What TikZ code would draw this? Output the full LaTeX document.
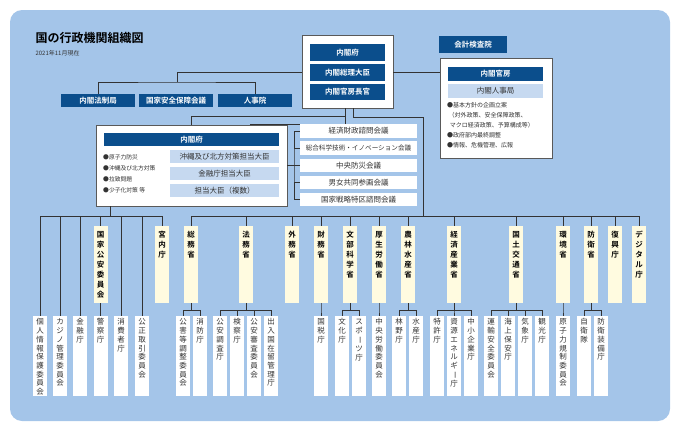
\documentclass[tikz,border=0pt]{standalone}
\usepackage{fontspec}
\usepackage{graphicx}
\setmainfont{Noto Sans CJK JP}[BoldFont=Noto Sans CJK JP Bold]
\definecolor{bgblue}{HTML}{A4C5E9}
\definecolor{darkblue}{HTML}{0B4E8C}
\definecolor{lightblue}{HTML}{C6D9F0}
\definecolor{paleyellow}{HTML}{FFFBE0}
\definecolor{linegray}{HTML}{333333}
\newlength\vtpitch
\setlength\vtpitch{8.7pt}
\makeatletter
\def\vt@dash{ー}
\def\vtext#1{\edef\vt@arg{#1}\expandafter\vt@do\expandafter{\vt@arg}}
\def\vt@do#1{\vbox{\offinterlineskip\@tfor\vt@c:=#1\do{%
  \hbox to 1.1em{\hss\ifx\vt@c\vt@dash\rotatebox[origin=c]{-90}{ー}\else\vt@c\fi\hss
  \vrule height .8\vtpitch depth .2\vtpitch width 0pt}}}}
\makeatother
\tikzset{
  bar/.style={fill=darkblue, text=white, font=\bfseries\fontsize{7.5}{8}\selectfont, inner sep=0pt},
  lbar/.style={fill=lightblue, text=black!80, font=\fontsize{7.5}{8}\selectfont, inner sep=0pt},
  wbox/.style={fill=white, draw=gray!70!black, line width=0.8pt, inner sep=0pt},
  council/.style={fill=white, text=black!80, inner sep=0pt, minimum width=117pt, minimum height=13.5pt, font=\fontsize{7.5}{8}\selectfont},
  mbox/.style={fill=paleyellow, minimum width=14pt, minimum height=77pt, inner sep=0pt},
  sbox/.style={fill=white, minimum width=14pt, minimum height=80pt, inner sep=0pt},
  mlab/.style={anchor=north, inner sep=0pt, yshift=-3pt, font=\bfseries\fontsize{7.5}{8}\selectfont\setlength\vtpitch{10pt}},
  slab/.style={anchor=north, inner sep=0pt, yshift=-2pt, text=black!80, font=\fontsize{7.5}{8}\selectfont\setlength\vtpitch{8.7pt}},
  conn/.style={draw=linegray, line width=0.8pt},
}
\newcommand\ministry[3]{\node[mbox] (#1) at (#2,264.5) {};
  \node[mlab] at (#1.north) {\vtext{#3}};}
\newcommand\agency[3]{\node[sbox] (#1) at (#2,356) {};
  \node[slab] at (#1.north) {\vtext{#3}};}
\begin{document}
\begin{tikzpicture}[x=1pt, y=-1pt]
\useasboundingbox (0,0) rectangle (680,431);
\fill[bgblue, rounded corners=12pt] (10,10) rectangle (670,421);

% title
\node[anchor=west, font=\bfseries\fontsize{12}{12}\selectfont] (title) at (32,38) {国の行政機関組織図};
\node[anchor=west, font=\fontsize{6}{6}\selectfont, text=black!80] (date) at (32,53) {2021年11月現在};

% top box
\node[wbox, minimum width=91pt, minimum height=73pt] (top) at (347.5,71.5) {};
\node[bar, minimum width=75pt, minimum height=17pt] (cao) at (347.5,52.5) {内閣府};
\node[bar, minimum width=75pt, minimum height=17pt] (pm) at (347.5,72.5) {内閣総理大臣};
\node[bar, minimum width=75pt, minimum height=16pt] (ccs) at (347.5,92) {内閣官房長官};

% left bars
\node[bar, minimum width=74pt, minimum height=13pt] (clb) at (98,100.5) {内閣法制局};
\node[bar, minimum width=74pt, minimum height=13pt] (nsc) at (176,100.5) {国家安全保障会議};
\node[bar, minimum width=74pt, minimum height=13pt] (npa) at (255,100.5) {人事院};
\coordinate (tl) at (177,72);
\draw[conn] (top.west |- tl) -- (tl) -- ++(0,10) coordinate (tlb);
\draw[conn] (clb.north) |- (tlb) -| (npa.north);

% right side
\node[bar, minimum width=68pt, minimum height=17pt] (boa) at (473,44.5) {会計検査院};
\node[wbox, minimum width=112pt, minimum height=100pt] (cas) at (496,108) {};
\node[bar, minimum width=95pt, minimum height=14pt] (casbar) at (495.5,74) {内閣官房};
\node[lbar, minimum width=95pt, minimum height=14pt] (cpb) at (495.5,91) {内閣人事局};
\node[anchor=north west, align=left, inner sep=0pt, text=black!80,
  font=\fontsize{6}{10}\selectfont] (casnote) at (447,102)
  {●基本方針の企画立案\\\ （対外政策、安全保障政策、\\\ \ マクロ経済政策、予算構成等）\\●政府部内最終調整\\●情報、危機管理、広報};
\draw[conn] (top.east |- pm) -- (cas.west |- pm);

% cabinet office box
\node[wbox, minimum width=191pt, minimum height=81pt] (cab) at (191.5,165.5) {};
\node[bar, minimum width=175pt, minimum height=13pt] (cabbar) at (191.5,139.5) {内閣府};
\node[lbar, minimum width=109pt, minimum height=13pt] (okn) at (224.5,156.5) {沖縄及び北方対策担当大臣};
\node[lbar, minimum width=109pt, minimum height=13pt] (fsa) at (224.5,173.5) {金融庁担当大臣};
\node[lbar, minimum width=109pt, minimum height=13pt] (smn) at (224.5,190.5) {担当大臣（複数）};
\node[anchor=north west, align=left, inner sep=0pt, text=black!80,
  font=\fontsize{5.8}{11}\selectfont] (cabnote) at (103,154)
  {●原子力防災\\●沖縄及び北方対策\\●拉致問題\\●少子化対策 等};
\draw[conn] (top.south -| 345,0) |- (cab.north -| 250,0) ++(0,-10) coordinate (dummy);
\draw[conn] (345,108) |- (191,116) -- (cab.north -| 191,0);

% councils
\node[council] (c1) at (358.5,131) {経済財政諮問会議};
\node[council, font=\fontsize{6.6}{7}\selectfont] (c2) at (358.5,148) {総合科学技術・イノベーション会議};
\node[council] (c3) at (358.5,165.5) {中央防災会議};
\node[council] (c4) at (358.5,182.5) {男女共同参画会議};
\node[council] (c5) at (358.5,199.5) {国家戦略特区諮問会議};
\draw[conn] (c1.west) -| (294,165) |- (c5.west);
\foreach \c in {c2,c3,c4} \draw[conn] (\c.west) -- (\c.west -| 294,0);
\draw[conn] (cab.east |- c3) -- (294,165.5);

% ministries
\ministry{kok}{100.5}{国家公安委員会}
\ministry{kun}{162}{宮内庁}
\ministry{som}{191}{総務省}
\ministry{hom}{246}{法務省}
\ministry{gai}{292}{外務省}
\ministry{zai}{321}{財務省}
\ministry{mon}{350}{文部科学省}
\ministry{kos}{379}{厚生労働省}
\ministry{nor}{408}{農林水産省}
\ministry{kei}{454}{経済産業省}
\ministry{kot}{516}{国土交通省}
\ministry{kan}{563}{環境省}
\ministry{bou}{591}{防衛省}
\ministry{fuk}{615}{復興庁}
\ministry{dig}{639}{デジタル庁}

% agencies
\agency{ppc}{40}{個人情報保護委員会}
\agency{cas2}{60}{カジノ管理委員会}
\agency{fsa2}{80}{金融庁}
\agency{npa2}{100.5}{警察庁}
\agency{caa}{121}{消費者庁}
\agency{jftc}{142}{公正取引委員会}
\agency{ecc}{183}{公害等調整委員会}
\agency{fdma}{200}{消防庁}
\agency{psia}{220}{公安調査庁}
\agency{ppo}{237}{検察庁}
\agency{psec}{254}{公安審査委員会}
\agency{isa}{271}{出入国在留管理庁}
\agency{nta}{321}{国税庁}
\agency{bunka}{342}{文化庁}
\agency{jsa}{359}{スポーツ庁}
\agency{clrc}{379}{中央労働委員会}
\agency{rinya}{399}{林野庁}
\agency{jfa}{416}{水産庁}
\agency{jpo}{437}{特許庁}
\agency{enecho}{454}{資源エネルギー庁}
\agency{chusho}{471}{中小企業庁}
\agency{jtsb}{491}{運輸安全委員会}
\agency{jcg}{508}{海上保安庁}
\agency{jma}{525}{気象庁}
\agency{jta}{542}{観光庁}
\agency{nra}{563}{原子力規制委員会}
\agency{sdf}{584}{自衛隊}
\agency{atla}{601}{防衛装備庁}

% buses
\coordinate (busL) at (110,216);
\coordinate (busR) at (423,216);
\draw[conn] (cab.south -| busL) -- (busL);
\foreach \n in {ppc,cas2,fsa2,caa,jftc} \draw[conn] (busL) -| (\n.north);
\foreach \n in {kok,kun} \draw[conn] (busL) -| (\n.north);
\draw[conn] (top.south -| 353,0) |- (423,117) -- (busR);
\foreach \n in {som,hom,gai,zai,mon,kos,nor,kei,kot,kan,bou,fuk,dig} \draw[conn] (busR) -| (\n.north);
\foreach \p/\cs in {kok/npa2,som/ecc,som/fdma,hom/psia,hom/ppo,hom/psec,hom/isa,zai/nta,
  mon/bunka,mon/jsa,kos/clrc,nor/rinya,nor/jfa,kei/jpo,kei/enecho,kei/chusho,
  kot/jtsb,kot/jcg,kot/jma,kot/jta,kan/nra,bou/sdf,bou/atla}
  \draw[conn] (\p.south) -- ++(0,7) -| (\cs.north);
\end{tikzpicture}
\end{document}
